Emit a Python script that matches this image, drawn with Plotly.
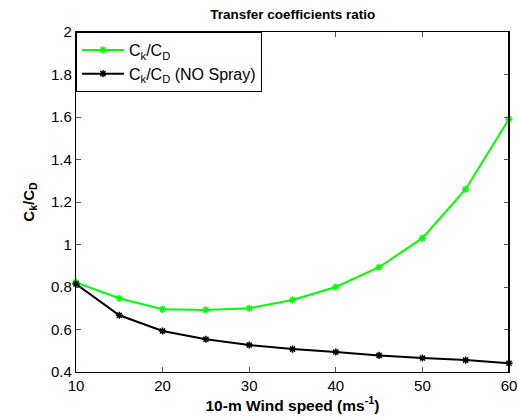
import plotly.graph_objects as go

wind = [10, 15, 20, 25, 30, 35, 40, 45, 50, 55, 60]
ratio_spray = [0.822, 0.747, 0.695, 0.692, 0.700, 0.739, 0.800, 0.893, 1.030, 1.260, 1.590]
ratio_nospray = [0.814, 0.667, 0.593, 0.554, 0.527, 0.508, 0.494, 0.478, 0.466, 0.456, 0.441]

fig = go.Figure()
fig.add_trace(go.Scatter(
    x=wind, y=ratio_spray, mode="lines+markers",
    name="C<sub>k</sub>/C<sub>D</sub>",
    line=dict(color="#00ff00", width=2),
    marker=dict(symbol="asterisk-open", size=6, color="#00ff00",
                line=dict(color="#00ff00", width=1.5)),
    cliponaxis=False,
))
fig.add_trace(go.Scatter(
    x=wind, y=ratio_nospray, mode="lines+markers",
    name="C<sub>k</sub>/C<sub>D</sub> (NO Spray)",
    line=dict(color="black", width=2),
    marker=dict(symbol="asterisk-open", size=6, color="black",
                line=dict(color="black", width=1.5)),
    cliponaxis=False,
))

axis_style = dict(
    showline=True, linecolor="black", linewidth=1.3, mirror="ticks",
    ticks="inside", ticklen=5, tickcolor="#555", showgrid=False, zeroline=False,
    tickfont=dict(family="Arial, Liberation Sans", size=15, color="black"),
    ticklabeloverflow="allow", automargin=False,
)

# right edge of the axes box
fig.add_shape(type="line", xref="paper", yref="paper", x0=1, y0=0, x1=1, y1=1,
              line=dict(color="black", width=2), layer="above")

fig.update_layout(
    width=518, height=420,
    margin=dict(l=76, r=9, t=32, b=48),
    paper_bgcolor="white", plot_bgcolor="white",
    font=dict(family="Arial, Liberation Sans", color="black"),
    title=dict(text="<b>Transfer coefficients ratio</b>", x=0.565, xanchor="center",
               y=0.965, yanchor="middle", font=dict(size=13.5)),
    xaxis=dict(range=[10, 60], tickvals=[10, 20, 30, 40, 50, 60],
               title=dict(text="<b>10-m Wind speed (ms<sup>-1</sup>)</b>",
                          font=dict(size=15.5), standoff=6), **axis_style),
    yaxis=dict(range=[0.4, 2.0], tickvals=[0.4, 0.6, 0.8, 1, 1.2, 1.4, 1.6, 1.8, 2],
               ticktext=["0.4", "0.6", "0.8", "1", "1.2", "1.4", "1.6", "1.8", "2"],
               title=dict(text="<b>C<sub>k</sub>/C<sub>D</sub></b>",
                          font=dict(size=15), standoff=12), **axis_style),
    legend=dict(x=0, y=1, xanchor="left", yanchor="top",
                bgcolor="white", bordercolor="black", borderwidth=1,
                font=dict(size=16), itemwidth=42, tracegroupgap=4),
    showlegend=True,
)

fig.write_html("out.html", config={"displayModeBar": False},
               post_script="document.body.style.margin='0';document.body.style.overflow='hidden';")
